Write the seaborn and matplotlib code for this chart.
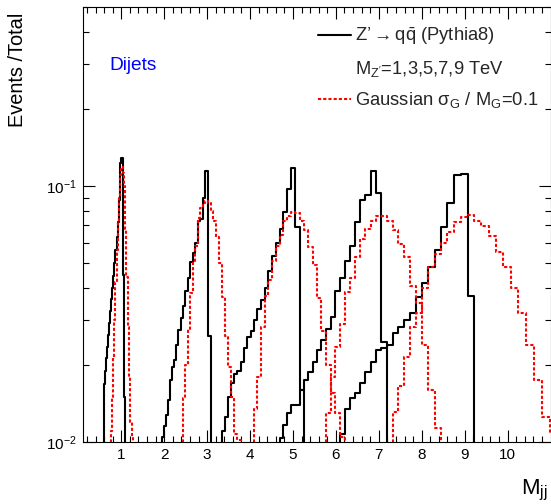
import numpy as np
import pandas as pd
import matplotlib
matplotlib.use("Agg")
import matplotlib.pyplot as plt
import seaborn as sns
from matplotlib.lines import Line2D
from matplotlib.ticker import FixedLocator, FixedFormatter, NullFormatter

sns.set_theme(style="ticks")
plt.rcParams.update({
    "font.family": ["Liberation Sans", "DejaVu Sans"],
    "mathtext.fontset": "custom",
    "mathtext.rm": "Liberation Sans",
    "mathtext.it": "Liberation Sans:italic",
    "mathtext.bf": "Liberation Sans:bold",
    "axes.linewidth": 0.8,
    "axes.edgecolor": "black",
    "figure.facecolor": "white",
    "axes.facecolor": "white",
})

# ---------------- data (dijet mass bin edges in TeV) ----------------
mjj_edges = [0.489, 0.5075, 0.526, 0.5455, 0.565, 0.5855, 0.606, 0.6275, 0.649, 0.671,
             0.693, 0.7165, 0.740, 0.764, 0.788, 0.813, 0.838, 0.864, 0.890, 0.917,
             0.944, 0.972, 1.000, 1.029, 1.058, 1.088, 1.118, 1.1495, 1.181, 1.2135,
             1.246, 1.2795, 1.313, 1.348, 1.383, 1.419, 1.455, 1.4925, 1.530, 1.5685,
             1.607, 1.647, 1.687, 1.7285, 1.770, 1.813, 1.856, 1.9005, 1.945, 1.991,
             2.037, 2.0845, 2.132, 2.1815, 2.231, 2.2815, 2.332, 2.385, 2.438, 2.492,
             2.546, 2.6025, 2.659, 2.717, 2.775, 2.835, 2.895, 2.957, 3.019, 3.083,
             3.147, 3.213, 3.279, 3.3475, 3.416, 3.487, 3.558, 3.631, 3.704, 3.779,
             3.854, 3.932, 4.010, 4.0905, 4.171, 4.254, 4.337, 4.423, 4.509, 4.5975,
             4.686, 4.7775, 4.869, 4.9635, 5.058, 5.1555, 5.253, 5.354, 5.455, 5.559,
             5.663, 5.770, 5.877, 5.988, 6.099, 6.2135, 6.328, 6.446, 6.564, 6.686,
             6.808, 6.934, 7.060, 7.190, 7.320, 7.4545, 7.589, 7.7275, 7.866, 8.009,
             8.152, 8.2995, 8.447, 8.5995, 8.752, 8.9095, 9.067, 9.229, 9.391, 9.5585,
             9.726, 9.899, 10.072, 10.251, 10.430, 10.614, 10.798, 10.9885, 11.179]

# Z' -> qqbar (Pythia8), fraction of events per bin; first bin lower edge given
zp1_start = 0.5855
zp1 = [0.0150, 0.0168, 0.0190, 0.0212, 0.0235, 0.0262, 0.0292, 0.0325, 0.0360, 0.0400,
       0.0445, 0.0500, 0.0560, 0.0630, 0.0720, 0.0880, 0.1230, 0.1285, 0.0450, 0.0150]
zp3_start = 1.945
zp3 = [0.0105, 0.0115, 0.0127, 0.0146, 0.0174, 0.0196, 0.0209, 0.0239, 0.0273, 0.0304,
       0.0341, 0.0390, 0.0435, 0.0502, 0.0549, 0.0600, 0.0730, 0.0745, 0.0900, 0.1140,
       0.0260]
zp5_start = 3.3475
zp5 = [0.0110, 0.0125, 0.0150, 0.0170, 0.0184, 0.0190, 0.0205, 0.0232, 0.0256, 0.0270,
       0.0300, 0.0330, 0.0357, 0.0400, 0.0467, 0.0534, 0.0600, 0.0680, 0.0790, 0.0970,
       0.1170, 0.0690, 0.0160]
zp7_start = 4.686
zp7 = [0.0104, 0.0117, 0.0130, 0.0140, 0.0140, 0.0159, 0.0174, 0.0188, 0.0205, 0.0228,
       0.0249, 0.0277, 0.0307, 0.0390, 0.0435, 0.0510, 0.0584, 0.0720, 0.0880, 0.0920,
       0.1140, 0.0940, 0.0245]
zp9_start = 6.099
zp9 = [0.0107, 0.0135, 0.0148, 0.0155, 0.0170, 0.0188, 0.0205, 0.0228, 0.0233, 0.0240,
       0.0266, 0.0280, 0.0300, 0.0318, 0.0368, 0.0417, 0.0484, 0.0564, 0.0688, 0.0860,
       0.1100, 0.1116, 0.0370]

# Gaussian sigma_G / M_G = 0.1
gs1_start = 0.764
gs1 = [0.0110, 0.0150, 0.0215, 0.0300, 0.0420, 0.0560, 0.0720, 0.0900, 0.1100, 0.1180,
       0.1120, 0.1000, 0.0680, 0.0440, 0.0280, 0.0180, 0.0120, 0.0105]
gs3_start = 2.438
gs3 = [0.0148, 0.0199, 0.0277, 0.0380, 0.0510, 0.0580, 0.0750, 0.0820, 0.0860, 0.0870,
       0.0860, 0.0800, 0.0730, 0.0630, 0.0500, 0.0367, 0.0260, 0.0196, 0.0150, 0.0107,
       0.0102]
gs5_start = 4.0905
gs5 = [0.0135, 0.0180, 0.0280, 0.0370, 0.0430, 0.0510, 0.0580, 0.0640, 0.0730, 0.0760,
       0.0790, 0.0780, 0.0730, 0.0670, 0.0575, 0.0490, 0.0364, 0.0270, 0.0200, 0.0155,
       0.0130, 0.0105]
gs7_start = 5.770
gs7 = [0.0130, 0.0180, 0.0235, 0.0290, 0.0385, 0.0435, 0.0526, 0.0620, 0.0680, 0.0730,
       0.0760, 0.0764, 0.0730, 0.0674, 0.0593, 0.0526, 0.0408, 0.0350, 0.0239, 0.0159,
       0.0113]
gs9_start = 7.320
gs9 = [0.0131, 0.0165, 0.0215, 0.0280, 0.0320, 0.0400, 0.0480, 0.0540, 0.0600, 0.0660,
       0.0720, 0.0753, 0.0769, 0.0730, 0.0699, 0.0634, 0.0550, 0.0480, 0.0400, 0.0320,
       0.0240, 0.0175, 0.0125, 0.0108]

x_major = [1, 2, 3, 4, 5, 6, 7, 8, 9, 10]
x_major_labels = ["1", "2", "3", "4", "5", "6", "7", "8", "9", "10"]
y_major = [0.01, 0.1]
y_major_labels = [r"$10^{-2}$", r"$10^{-1}$"]

legend_labels = ["Z\u2019 $\\!\\!\\rightarrow\\!\\!$ q$\\bar{\\mathrm{q}}$ (Pythia8)",
                 r"M$_{\mathrm{Z'}}$=1,3,5,7,9 TeV",
                 "Gaussian \u03c3$_{\\mathrm{G}}$ / M$_{\\mathrm{G}}$=0.1"]

# ---------------- figure ----------------
W, H = 551, 504
fig = plt.figure(figsize=(W / 100, H / 100), dpi=100)
ax = fig.add_axes([82.7 / W, 1 - 442 / H, (550.5 - 82.7) / W, (442 - 6.7) / H])

RED_LS = (0, (1.5, 1.0))
edges_arr = np.asarray(mjj_edges)


def draw(start, vals, color, ls):
    i0 = int(np.argmin(np.abs(edges_arr - start)))
    e = list(edges_arr[i0:i0 + len(vals) + 1])
    lo = e[0] - (e[1] - e[0])
    hi = e[-1] + (e[-1] - e[-2])
    edges = [lo] + e + [hi]
    w = [1e-4] + list(vals) + [1e-4]
    centers = [(a + b) / 2 for a, b in zip(edges[:-1], edges[1:])]
    df = pd.DataFrame({"mjj": centers, "frac": w})
    sns.histplot(data=df, x="mjj", weights="frac", bins=edges, element="step",
                 fill=False, color=color, linestyle=ls, linewidth=1.5, ax=ax)


for s, v in [(zp1_start, zp1), (zp3_start, zp3), (zp5_start, zp5),
             (zp7_start, zp7), (zp9_start, zp9)]:
    draw(s, v, "black", "-")
for s, v in [(gs1_start, gs1), (gs3_start, gs3), (gs5_start, gs5),
             (gs7_start, gs7), (gs9_start, gs9)]:
    draw(s, v, (1, 0, 0), RED_LS)

ax.set_yscale("log")
ax.set_xlim(0.1, 11.0)
ax.set_ylim(0.01, 0.5)
ax.set_xlabel("")
ax.set_ylabel("")

ax.xaxis.set_major_locator(FixedLocator(x_major))
ax.xaxis.set_major_formatter(FixedFormatter(x_major_labels))
ax.xaxis.set_minor_locator(FixedLocator([k / 5 for k in range(1, 55) if k % 5]))
ax.xaxis.set_minor_formatter(NullFormatter())
ax.yaxis.set_major_locator(FixedLocator(y_major))
ax.yaxis.set_major_formatter(FixedFormatter(y_major_labels))
ax.yaxis.set_minor_locator(FixedLocator([0.02, 0.03, 0.04, 0.05, 0.06, 0.07, 0.08, 0.09,
                                         0.2, 0.3, 0.4, 0.5]))
ax.yaxis.set_minor_formatter(NullFormatter())
ax.tick_params(which="both", direction="in", top=True, right=True, color="black",
               width=0.8, labelsize=11, labelcolor="black")
ax.tick_params(which="major", length=8.6, pad=4)
ax.tick_params(which="minor", length=4.5)
for sp in ax.spines.values():
    sp.set_visible(True)
    sp.set_color("black")

fig.text(18 / W, 1 - 13 / H, "Events /Total", rotation=90, ha="center", va="top",
         fontsize=14.4, color="black")
fig.text(548 / W, 1 - 494 / H, r"M$_{\mathrm{jj}}$", ha="right", va="baseline",
         fontsize=16, color="black")
fig.text(109 / W, 1 - 69.5 / H, "Dijets", ha="left", va="baseline", fontsize=13.8,
         color=(0, 0, 1))

handles = [Line2D([], [], color="black", lw=1.5),
           Line2D([], [], color="none", lw=0),
           Line2D([], [], color=(1, 0, 0), lw=1.5, ls=RED_LS)]
ax.legend(handles, legend_labels, loc="upper left",
          bbox_to_anchor=(318 / W, 1 - 26 / H), bbox_transform=fig.transFigure,
          frameon=False, fontsize=13.2, handlelength=1.8, handletextpad=0.2,
          labelspacing=0.62, borderpad=0, borderaxespad=0)

fig.savefig("out.png", dpi=100)
